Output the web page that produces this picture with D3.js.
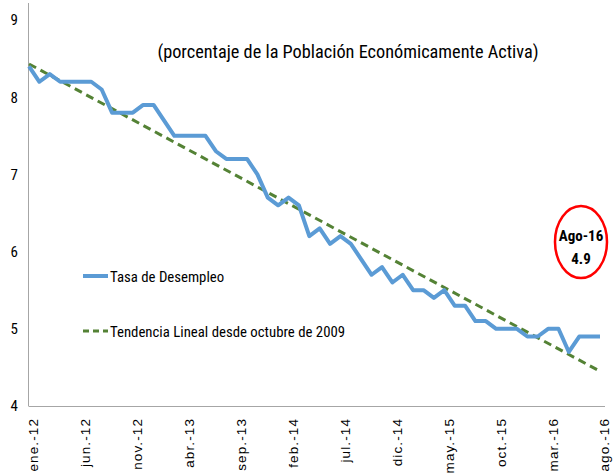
<!DOCTYPE html>
<html>
<head>
<meta charset="utf-8">
<script src="https://cdn.jsdelivr.net/npm/d3@7"></script>
<style>
  body { margin: 0; background: #fff; }
  svg { display: block; }
</style>
</head>
<body>
<svg id="chart" width="613" height="475"></svg>
<script>
// months, ene-12 .. ago-16
const months = [
  "ene.-12","feb.-12","mar.-12","abr.-12","may.-12","jun.-12","jul.-12","ago.-12","sep.-12","oct.-12","nov.-12","dic.-12",
  "ene.-13","feb.-13","mar.-13","abr.-13","may.-13","jun.-13","jul.-13","ago.-13","sep.-13","oct.-13","nov.-13","dic.-13",
  "ene.-14","feb.-14","mar.-14","abr.-14","may.-14","jun.-14","jul.-14","ago.-14","sep.-14","oct.-14","nov.-14","dic.-14",
  "ene.-15","feb.-15","mar.-15","abr.-15","may.-15","jun.-15","jul.-15","ago.-15","sep.-15","oct.-15","nov.-15","dic.-15",
  "ene.-16","feb.-16","mar.-16","abr.-16","may.-16","jun.-16","jul.-16","ago.-16"
];
// tasa de desempleo (%)
const desempleo = [
  8.4, 8.2, 8.3, 8.2, 8.2, 8.2, 8.2, 8.1, 7.8, 7.8, 7.8, 7.9,
  7.9, 7.7, 7.5, 7.5, 7.5, 7.5, 7.3, 7.2, 7.2, 7.2, 7.0, 6.7,
  6.6, 6.7, 6.6, 6.2, 6.3, 6.1, 6.2, 6.1, 5.9, 5.7, 5.8, 5.6,
  5.7, 5.5, 5.5, 5.4, 5.5, 5.3, 5.3, 5.1, 5.1, 5.0, 5.0, 5.0,
  4.9, 4.9, 5.0, 5.0, 4.7, 4.9, 4.9, 4.9
];
// tendencia lineal: endpoints
const tendMonths = ["ene.-12", "ago.-16"];
const tendValues = [8.43, 4.45];
const yTicks = [4, 5, 6, 7, 8, 9];
const xTickLabels = ["ene.-12","jun.-12","nov.-12","abr.-13","sep.-13","feb.-14","jul.-14","dic.-14","may.-15","oct.-15","mar.-16","ago.-16"];

const svg = d3.select("#chart");
const font = "'Liberation Sans Narrow', 'Roboto Condensed', 'Open Sans', sans-serif";

const x = d3.scalePoint().domain(months).range([29, 600]);
const y = d3.scaleLinear().domain([4, 9]).range([406, 20]);

// axes lines
svg.append("line")
  .attr("x1", 28.5).attr("x2", 28.5).attr("y1", 3).attr("y2", y(4))
  .attr("stroke", "#a6a6a6").attr("stroke-width", 1);
svg.append("line")
  .attr("x1", 28.5).attr("x2", 605).attr("y1", y(4) + 0.5).attr("y2", y(4) + 0.5)
  .attr("stroke", "#a6a6a6").attr("stroke-width", 1);

// y axis labels
const yAxis = svg.append("g")
  .attr("transform", "translate(29,0)")
  .call(d3.axisLeft(y).tickValues(yTicks).tickSize(0).tickPadding(11).tickFormat(d3.format("d")));
yAxis.select(".domain").remove();
yAxis.selectAll("text")
  .attr("font-family", font).attr("font-size", 15).attr("fill", "#000");

// x axis labels
const xAxis = svg.append("g")
  .attr("transform", `translate(0,${y(4)})`)
  .call(d3.axisBottom(x).tickValues(xTickLabels).tickSize(0));
xAxis.select(".domain").remove();
xAxis.selectAll("text")
  .attr("font-family", "'Liberation Sans', Arial, sans-serif")
  .attr("font-size", 13.5)
  .attr("letter-spacing", 1.1)
  .attr("fill", "#000")
  .attr("text-anchor", "end")
  .attr("transform", "rotate(-90)")
  .attr("x", -12)
  .attr("y", 0)
  .attr("dy", "0.66em");

// trend line
const trend = tendMonths.map((m, i) => ({ m, v: tendValues[i] }));
svg.append("path")
  .datum(trend)
  .attr("fill", "none")
  .attr("stroke", "#548235")
  .attr("stroke-width", 3)
  .attr("stroke-dasharray", "8,5")
  .attr("d", d3.line().x(d => x(d.m)).y(d => y(d.v)));

// unemployment line
svg.append("path")
  .datum(desempleo)
  .attr("fill", "none")
  .attr("stroke", "#5b9bd5")
  .attr("stroke-width", 4)
  .attr("stroke-linejoin", "round")
  .attr("d", d3.line().x((d, i) => x(months[i])).y(d => y(d)));

// title
svg.append("text")
  .attr("x", 348).attr("y", 58)
  .attr("text-anchor", "middle")
  .attr("font-family", font).attr("font-size", 18.3).attr("fill", "#000")
  .text("(porcentaje de la Población Económicamente Activa)");

// legend
const legend = svg.append("g").attr("font-family", font).attr("font-size", 14.8)
  .attr("fill", "#000");
legend.append("line").attr("x1", 83).attr("x2", 108).attr("y1", 276).attr("y2", 276)
  .attr("stroke", "#5b9bd5").attr("stroke-width", 4);
legend.append("text").attr("x", 110).attr("y", 282).text("Tasa de Desempleo");
legend.append("line").attr("x1", 83).attr("x2", 108).attr("y1", 331).attr("y2", 331)
  .attr("stroke", "#548235").attr("stroke-width", 3).attr("stroke-dasharray", "6,4");
legend.append("text").attr("x", 110).attr("y", 337).text("Tendencia Lineal desde octubre de 2009");

// annotation ellipse
svg.append("ellipse")
  .attr("cx", 581).attr("cy", 242).attr("rx", 26).attr("ry", 36)
  .attr("fill", "none").attr("stroke", "#ff0000").attr("stroke-width", 2.5);
const ann = svg.append("g").attr("font-family", font).attr("font-size", 15)
  .attr("font-weight", "bold").attr("text-anchor", "middle").attr("fill", "#000");
ann.append("text").attr("x", 581).attr("y", 241).text("Ago-16");
ann.append("text").attr("x", 581).attr("y", 264).text(d3.format(".1f")(desempleo[desempleo.length - 1]));
</script>
</body>
</html>
